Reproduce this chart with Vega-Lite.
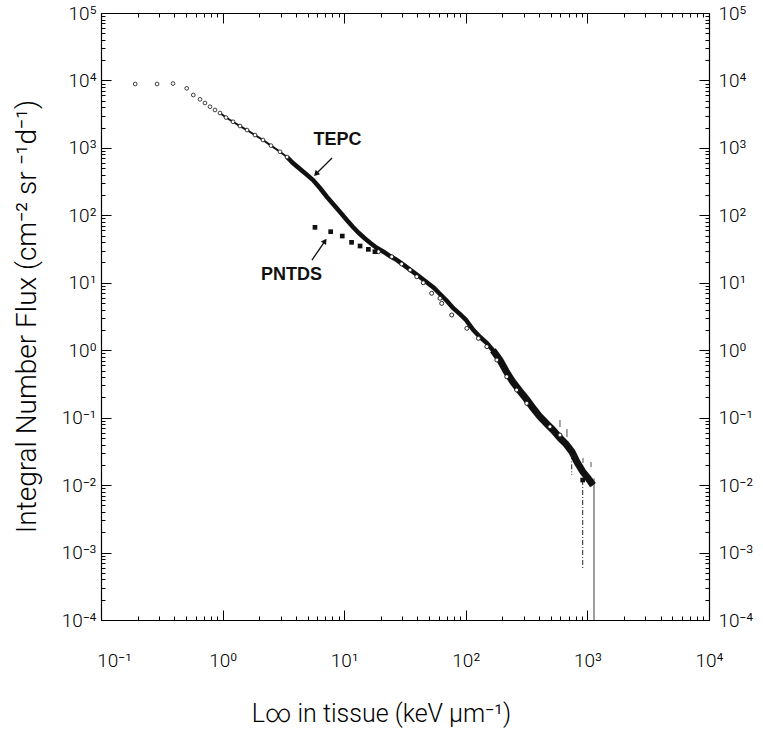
{
  "$schema": "https://vega.github.io/schema/vega-lite/v6.json",
  "width": 608,
  "height": 607,
  "autosize": {"type": "none"},
  "padding": {"left": 101, "top": 13, "right": 54, "bottom": 111},
  "background": "white",
  "config": {
    "view": {"stroke": null},
    "axis": {
      "labelFont": "Roboto", "labelFontWeight": 300, "labelFontSize": 19, "labelColor": "#000",
      "titleFont": "Roboto", "titleFontWeight": 300, "titleColor": "#000",
      "domainColor": "#000", "domainWidth": 1.2, "tickColor": "#000", "tickWidth": 1,
      "grid": false, "labelOverlap": false, "labelFlush": false
    }
  },
  "datasets": {
    "tepc": [
      {"x":0.191,"y":8850},{"x":0.289,"y":8850},{"x":0.391,"y":9000},{"x":0.507,"y":7640},{"x":0.574,"y":6080},
      {"x":0.652,"y":5250},{"x":0.716,"y":4630},{"x":0.788,"y":4080},{"x":0.866,"y":3650},{"x":0.952,"y":3290},
      {"x":1.067,"y":2820},{"x":1.218,"y":2440},{"x":1.39,"y":2110},{"x":1.588,"y":1840},{"x":1.847,"y":1550},
      {"x":2.148,"y":1310},{"x":2.5,"y":1080},{"x":2.965,"y":877},{"x":3.385,"y":732},{"x":3.79,"y":597},
      {"x":4.33,"y":486},{"x":4.85,"y":410},{"x":5.54,"y":334},{"x":6.32,"y":254},{"x":7.22,"y":187},
      {"x":8.24,"y":142},{"x":9.24,"y":112},{"x":10.5,"y":85.3},{"x":11.8,"y":67.1},{"x":13.2,"y":54.7},
      {"x":14.8,"y":45.3},{"x":16.6,"y":38.2},{"x":18.6,"y":32.7},{"x":21.2,"y":28.6},{"x":23.8,"y":24.9},
      {"x":27.2,"y":21.7},{"x":31.0,"y":18.3},{"x":36.1,"y":14.9},{"x":42.0,"y":12.2},{"x":48.0,"y":10.1},
      {"x":54.8,"y":8.36},{"x":61.3,"y":6.81},{"x":70.0,"y":5.37},{"x":78.5,"y":4.23},{"x":89.6,"y":3.44},
      {"x":100.4,"y":2.81},{"x":115,"y":2.0},{"x":131,"y":1.57},{"x":149,"y":1.28},{"x":167,"y":1.0},
      {"x":191,"y":0.716},{"x":214,"y":0.492},{"x":244,"y":0.338},{"x":279,"y":0.248},{"x":319,"y":0.183},
      {"x":357,"y":0.139},{"x":407,"y":0.103},{"x":465,"y":0.0805},{"x":521,"y":0.0656},{"x":595,"y":0.0499},
      {"x":667,"y":0.0406},{"x":747,"y":0.031},{"x":821,"y":0.022},{"x":920,"y":0.0156},{"x":1012,"y":0.0127},
      {"x":1112,"y":0.01}
    ],
    "circles": [
      {"x":19.1,"y":28.9},{"x":24.6,"y":24.3},{"x":29.7,"y":19.0},{"x":34.8,"y":15.5},{"x":39.5,"y":12.3},
      {"x":44.7,"y":10.0},{"x":52.4,"y":6.98},{"x":61.3,"y":5.89},{"x":63.4,"y":4.95},{"x":76.6,"y":3.33},
      {"x":102,"y":2.11},{"x":127,"y":1.5},{"x":149,"y":1.13},{"x":180,"y":0.716},{"x":217,"y":0.405},
      {"x":262,"y":0.257},{"x":317,"y":0.163},{"x":492,"y":0.0734},{"x":595,"y":0.0553}
    ],
    "pntds": [
      {"x":5.75,"y":66.4},{"x":7.74,"y":57.2},{"x":9.64,"y":49.3},{"x":11.5,"y":39.8},{"x":13.5,"y":35.1},
      {"x":15.8,"y":31.3},{"x":17.9,"y":28.9},{"x":915,"y":0.0119}
    ],
    "errors": [
      {"x":595,"y":0.0923,"y2":0.0726},{"x":679,"y":0.068,"y2":0.0517},{"x":791,"y":0.0289,"y2":0.0236},
      {"x":920,"y":0.0252,"y2":0.0213},{"x":1071,"y":0.022,"y2":0.0185}
    ],
    "drops": [
      {"series":"TEPC","x":1133,"y":0.0125,"y2":0.0001},
      {"series":"PNTDS","x":915,"y":0.0119,"y2":0.00059},
      {"series":"PNTDS","x":743,"y":0.0286,"y2":0.0141}
    ],
    "arrows": [
      {"name":"TEPC","x":7.94,"y":708,"x2":5.86,"y2":410},
      {"name":"PNTDS","x":5.43,"y":21.7,"x2":6.95,"y2":41.6}
    ],
    "heads": [
      {"name":"TEPC","x":5.86,"y":410},
      {"name":"PNTDS","x":6.95,"y":41.6}
    ],
    "labels": [
      {"x":8.81,"y":1306,"text":"TEPC"},
      {"x":3.69,"y":13.0,"text":"PNTDS"}
    ]
  },
  "encoding": {
    "x": {"field": "x", "type": "quantitative", "scale": {"type": "log", "domain": [0.1, 10000], "nice": false}, "axis": null},
    "y": {"field": "y", "type": "quantitative", "scale": {"type": "log", "domain": [0.0001, 100000], "nice": false}, "axis": null}
  },
  "layer": [
    {
      "data": {"name": "tepc"},
      "transform": [{"filter": "datum.x >= 0.9 && datum.x <= 3.5"}],
      "mark": {"type": "line", "color": "#111", "strokeWidth": 2},
      "encoding": {
        "x": {"field": "x", "type": "quantitative", "scale": {"type": "log", "domain": [0.1, 10000], "nice": false},
          "axis": {"orient": "bottom",
            "values": [0.1,0.2,0.3,0.4,0.5,0.6,0.7,0.8,0.9,1,2,3,4,5,6,7,8,9,10,20,30,40,50,60,70,80,90,100,200,300,400,500,600,700,800,900,1000,2000,3000,4000,5000,6000,7000,8000,9000,10000],
            "labelExpr": "datum.value==0.1?'10⁻¹':datum.value==1?'10⁰':datum.value==10?'10¹':datum.value==100?'10²':datum.value==1000?'10³':datum.value==10000?'10⁴':''",
            "tickSize": {"condition": {"test": "abs(log(datum.value)/LN10-round(log(datum.value)/LN10))<0.000001", "value": -10}, "value": -4},
            "labelOffset": {"condition": {"test": "datum.value==0.1", "value": 13}, "value": 0},
            "labelPadding": 41,
            "title": "L∞ in tissue (keV μm⁻¹)", "titleFontSize": 25,
            "titleX": 280, "titleY": 101, "titleBaseline": "alphabetic"}},
        "y": {"field": "y", "type": "quantitative", "scale": {"type": "log", "domain": [0.0001, 100000], "nice": false},
          "axis": {"orient": "left",
            "values": [0.0001,0.0002,0.0003,0.0004,0.0005,0.0006,0.0007,0.0008,0.0009,0.001,0.002,0.003,0.004,0.005,0.006,0.007,0.008,0.009,0.01,0.02,0.03,0.04,0.05,0.06,0.07,0.08,0.09,0.1,0.2,0.3,0.4,0.5,0.6,0.7,0.8,0.9,1,2,3,4,5,6,7,8,9,10,20,30,40,50,60,70,80,90,100,200,300,400,500,600,700,800,900,1000,2000,3000,4000,5000,6000,7000,8000,9000,10000,20000,30000,40000,50000,60000,70000,80000,90000,100000],
            "labelExpr": "datum.value==0.0001?'10⁻⁴':datum.value==0.001?'10⁻³':datum.value==0.01?'10⁻²':datum.value==0.1?'10⁻¹':datum.value==1?'10⁰':datum.value==10?'10¹':datum.value==100?'10²':datum.value==1000?'10³':datum.value==10000?'10⁴':datum.value==100000?'10⁵':''",
            "tickSize": {"condition": {"test": "abs(log(datum.value)/LN10-round(log(datum.value)/LN10))<0.000001", "value": -10}, "value": -4},
            "labelPadding": 15,
            "title": "Integral Number Flux (cm⁻² sr ⁻¹d⁻¹)", "titleFontSize": 28,
            "titleX": -74, "titleY": 303, "titleBaseline": "middle", "titleAngle": 270}}
      }
    },
    {
      "data": {"name": "tepc"},
      "transform": [{"filter": "datum.x >= 3"}],
      "mark": {"type": "line", "color": "#111", "strokeWidth": 4.5}
    },
    {
      "data": {"name": "tepc"},
      "transform": [{"filter": "datum.x >= 150"}],
      "mark": {"type": "line", "color": "#111", "strokeWidth": 7}
    },
    {
      "data": {"name": "tepc"},
      "transform": [{"filter": "datum.x < 3.4"}],
      "mark": {"type": "point", "shape": "circle", "size": 14, "filled": true, "fill": "white", "stroke": "#111", "strokeWidth": 0.8, "opacity": 1}
    },
    {
      "data": {"name": "circles"},
      "mark": {"type": "point", "shape": "circle", "size": 16, "filled": true, "fill": "white", "stroke": "#111", "strokeWidth": 0.9, "opacity": 1}
    },
    {
      "data": {"name": "errors"},
      "mark": {"type": "rule", "color": "#222", "strokeWidth": 0.8},
      "encoding": {"y2": {"field": "y2"}}
    },
    {
      "data": {"name": "drops"},
      "mark": {"type": "rule", "color": "#222", "strokeWidth": 1},
      "encoding": {
        "y2": {"field": "y2"},
        "strokeDash": {"field": "series", "type": "nominal", "scale": {"domain": ["TEPC", "PNTDS"], "range": [[1, 0], [5, 2, 1, 2]]}, "legend": null}
      }
    },
    {
      "data": {"name": "pntds"},
      "mark": {"type": "point", "shape": "square", "size": 22, "filled": true, "color": "#111", "opacity": 1},
      "encoding": {
        "x": {"field": "x", "type": "quantitative", "scale": {"type": "log", "domain": [0.1, 10000], "nice": false},
          "axis": {"orient": "top", "labels": false, "title": null, "domain": true,
            "values": [0.1,0.2,0.3,0.4,0.5,0.6,0.7,0.8,0.9,1,2,3,4,5,6,7,8,9,10,20,30,40,50,60,70,80,90,100,200,300,400,500,600,700,800,900,1000,2000,3000,4000,5000,6000,7000,8000,9000,10000],
            "tickSize": {"condition": {"test": "abs(log(datum.value)/LN10-round(log(datum.value)/LN10))<0.000001", "value": -10}, "value": -4}}},
        "y": {"field": "y", "type": "quantitative", "scale": {"type": "log", "domain": [0.0001, 100000], "nice": false},
          "axis": {"orient": "right", "title": null,
            "values": [0.0001,0.0002,0.0003,0.0004,0.0005,0.0006,0.0007,0.0008,0.0009,0.001,0.002,0.003,0.004,0.005,0.006,0.007,0.008,0.009,0.01,0.02,0.03,0.04,0.05,0.06,0.07,0.08,0.09,0.1,0.2,0.3,0.4,0.5,0.6,0.7,0.8,0.9,1,2,3,4,5,6,7,8,9,10,20,30,40,50,60,70,80,90,100,200,300,400,500,600,700,800,900,1000,2000,3000,4000,5000,6000,7000,8000,9000,10000,20000,30000,40000,50000,60000,70000,80000,90000,100000],
            "labelExpr": "datum.value==0.0001?'10⁻⁴':datum.value==0.001?'10⁻³':datum.value==0.01?'10⁻²':datum.value==0.1?'10⁻¹':datum.value==1?'10⁰':datum.value==10?'10¹':datum.value==100?'10²':datum.value==1000?'10³':datum.value==10000?'10⁴':datum.value==100000?'10⁵':''",
            "tickSize": {"condition": {"test": "abs(log(datum.value)/LN10-round(log(datum.value)/LN10))<0.000001", "value": -10}, "value": -4},
            "labelPadding": 19}}
      }
    },
    {
      "data": {"name": "arrows"},
      "mark": {"type": "rule", "color": "#111", "strokeWidth": 1.3},
      "encoding": {"x2": {"field": "x2"}, "y2": {"field": "y2"}}
    },
    {
      "data": {"name": "heads"},
      "transform": [{"filter": "datum.name == 'TEPC'"}],
      "mark": {"type": "point", "shape": "triangle-up", "angle": 225, "size": 40, "filled": true, "color": "#111", "opacity": 1}
    },
    {
      "data": {"name": "heads"},
      "transform": [{"filter": "datum.name == 'PNTDS'"}],
      "mark": {"type": "point", "shape": "triangle-up", "angle": 34, "size": 40, "filled": true, "color": "#111", "opacity": 1}
    },
    {
      "data": {"name": "labels"},
      "mark": {"type": "text", "font": "Liberation Sans", "fontWeight": "bold", "fontSize": 18, "color": "#111", "align": "center", "baseline": "middle"},
      "encoding": {"text": {"field": "text", "type": "nominal"}}
    }
  ],
  "resolve": {"axis": {"x": "independent", "y": "independent"}}
}
